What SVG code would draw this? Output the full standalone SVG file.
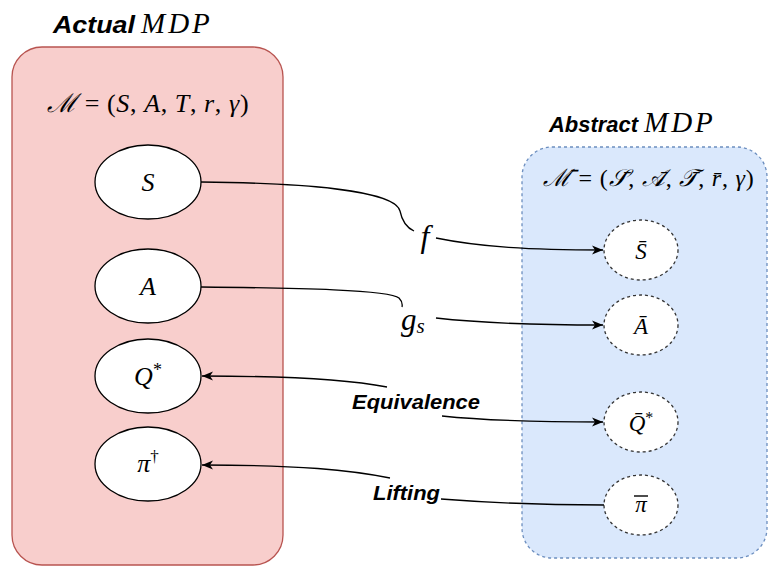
<svg xmlns="http://www.w3.org/2000/svg" width="769" height="567" viewBox="0 0 769 567">
  <defs>
    <marker id="arrow" viewBox="0 0 12 10" markerUnits="userSpaceOnUse" markerWidth="12" markerHeight="10" refX="11" refY="5" orient="auto">
      <path d="M0,0.5 L11,5 L0,9.5 L3,5 Z" fill="#000"/>
    </marker>
    <style>
      .title { font-family: "Liberation Sans", Arial, sans-serif; font-weight: bold; font-style: italic; fill: #000; }
      .math { font-family: "Liberation Serif", "Times New Roman", "DejaVu Serif", serif; font-style: italic; fill: #000; }
      .up { font-style: normal; }
      .lbl { font-family: "Liberation Sans", Arial, sans-serif; font-weight: bold; font-style: italic; font-size: 21px; fill: #000; }
      .real { fill: #ffffff; stroke: #000; stroke-width: 1.3; }
      .abst { fill: #ffffff; stroke: #333; stroke-width: 1.3; stroke-dasharray: 3 3; }
      .edge { fill: none; stroke: #000; stroke-width: 1.3; }
      .bar { stroke: #000; stroke-width: 1.4; }
    </style>
  </defs>

  <rect width="769" height="567" fill="#ffffff"/>

  <!-- actual MDP container -->
  <g id="actual-mdp">
    <rect x="12" y="47" width="271" height="518" rx="30" ry="30" fill="#f8cecc" stroke="#b85450" stroke-width="1.3"/>
    <text class="title" x="53" y="33" font-size="24" textLength="82" lengthAdjust="spacingAndGlyphs">Actual</text>
    <text class="math" x="141" y="33" font-size="29" letter-spacing="3">MDP</text>
    <text class="math" x="47" y="112" font-size="26" letter-spacing="0.6">ℳ<tspan class="up"> = (</tspan>S<tspan class="up">, </tspan>A<tspan class="up">, </tspan>T<tspan class="up">, </tspan>r<tspan class="up">, </tspan>γ<tspan class="up">)</tspan></text>
  </g>

  <!-- abstract MDP container -->
  <g id="abstract-mdp">
    <rect x="522" y="147" width="245" height="411" rx="30" ry="30" fill="#dae8fc" stroke="#6c8ebf" stroke-width="1.3" stroke-dasharray="3 3"/>
    <text class="title" x="549" y="132" font-size="22" textLength="89" lengthAdjust="spacingAndGlyphs">Abstract</text>
    <text class="math" x="644" y="132" font-size="29" letter-spacing="3">MDP</text>
    <text class="math" x="543" y="186" font-size="24" letter-spacing="0.8">ℳ&#x304;<tspan class="up"> = (</tspan>𝒮&#x304;<tspan class="up">, </tspan>𝒜&#x304;<tspan class="up">, </tspan>𝒯&#x304;<tspan class="up">, </tspan>r&#x304;<tspan class="up">, </tspan>γ<tspan class="up">)</tspan></text>
  </g>

  <!-- actual MDP nodes -->
  <g id="node-S">
    <ellipse class="real" cx="148" cy="182" rx="53" ry="37"/>
    <text class="math" x="148" y="191" font-size="26" text-anchor="middle">S</text>
  </g>
  <g id="node-A">
    <ellipse class="real" cx="148" cy="286" rx="53" ry="37"/>
    <text class="math" x="148" y="295" font-size="26" text-anchor="middle">A</text>
  </g>
  <g id="node-Q">
    <ellipse class="real" cx="148" cy="376" rx="53" ry="37"/>
    <text class="math" x="148" y="385" font-size="26" text-anchor="middle">Q<tspan class="up" font-size="18" dy="-9">*</tspan></text>
  </g>
  <g id="node-pi">
    <ellipse class="real" cx="148" cy="464" rx="53" ry="37"/>
    <text class="math" x="148" y="472" font-size="26" text-anchor="middle">π<tspan class="up" font-size="17" dy="-10">†</tspan></text>
  </g>

  <!-- abstract MDP nodes -->
  <g id="node-S-bar">
    <ellipse class="abst" cx="641" cy="250" rx="37" ry="30"/>
    <text class="math" x="641" y="259" font-size="23" text-anchor="middle">S&#x304;</text>
  </g>
  <g id="node-A-bar">
    <ellipse class="abst" cx="641" cy="325" rx="37" ry="30"/>
    <text class="math" x="641" y="334" font-size="23" text-anchor="middle">A&#x304;</text>
  </g>
  <g id="node-Q-bar">
    <ellipse class="abst" cx="641" cy="422" rx="37" ry="30"/>
    <text class="math" x="641" y="431" font-size="23" text-anchor="middle">Q&#x304;<tspan class="up" font-size="16" dy="-8">*</tspan></text>
  </g>
  <g id="node-pi-bar">
    <ellipse class="abst" cx="641" cy="505" rx="37" ry="30"/>
    <text class="math" x="641" y="512" font-size="23" text-anchor="middle">π</text>
    <line class="bar" x1="634" y1="496" x2="648" y2="496"/>
  </g>

  <!-- connectors -->
  <g id="connectors">
    <!-- f : S -> S-bar -->
    <path class="edge" d="M201,182 C300,183 395,190 400,211 Q403,226 414,231"/>
    <path class="edge" d="M436,238 C480,247 530,250 603,250" marker-end="url(#arrow)"/>
    <text class="math" x="425" y="247" font-size="32" text-anchor="middle">f</text>

    <!-- g_s : A -> A-bar -->
    <path class="edge" d="M201,287 C300,288 390,290 399,298 Q403,302 402,307"/>
    <path class="edge" d="M436,318 C480,323 530,325 603,325" marker-end="url(#arrow)"/>
    <text class="math" x="401" y="330" font-size="31">g<tspan font-size="21" dy="3">s</tspan></text>

    <!-- equivalence : Q <-> Q-bar -->
    <path class="edge" d="M387,387 C350,380 300,376 202,376" marker-end="url(#arrow)"/>
    <path class="edge" d="M442,416 C480,420 530,422 603,422" marker-end="url(#arrow)"/>
    <text class="lbl" x="352" y="409" textLength="128" lengthAdjust="spacingAndGlyphs">Equivalence</text>

    <!-- lifting : pi-bar -> pi-dagger -->
    <path class="edge" d="M390,478 C350,470 300,465 202,465" marker-end="url(#arrow)"/>
    <path class="edge" d="M441,499 C480,502 530,505 604,505"/>
    <text class="lbl" x="373" y="500" textLength="67" lengthAdjust="spacingAndGlyphs">Lifting</text>
  </g>
</svg>
